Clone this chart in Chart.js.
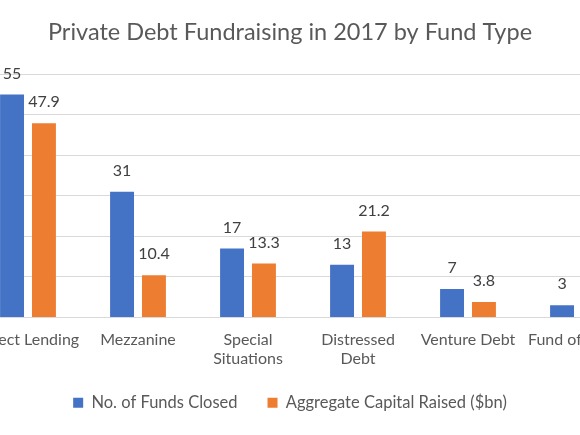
<!DOCTYPE html>
<html>
<head>
<meta charset="utf-8">
<script src="https://cdn.jsdelivr.net/npm/chart.js@4"></script>
<style>
  html, body { margin: 0; padding: 0; width: 580px; height: 435px; overflow: hidden; background: #fff; }
  #wrap { position: absolute; left: -65px; top: 0; width: 710px; height: 435px; }
</style>
</head>
<body>
<div id="wrap"><canvas id="c"></canvas></div>
<script>
const categories = ["Direct Lending", "Mezzanine", ["Special", "Situations"], ["Distressed", "Debt"], "Venture Debt", "Fund of Funds"];
const fundsClosed = [55, 31, 17, 13, 7, 3];
const capitalRaised = [47.9, 10.4, 13.3, 21.2, 3.8, null];
const yTicks = [0, 10, 20, 30, 40, 50, 60];
const seriesNames = ["No. of Funds Closed", "Aggregate Capital Raised ($bn)"];

const FONT = "Lato, 'Open Sans', sans-serif";
const GREY = "#595959";

const valueLabels = {
  id: 'valueLabels',
  afterDatasetsDraw(chart) {
    const ctx = chart.ctx;
    ctx.save();
    ctx.font = "16px " + FONT;
    ctx.fillStyle = "#404040";
    ctx.textAlign = "center";
    ctx.textBaseline = "middle";
    chart.data.datasets.forEach((ds, i) => {
      const meta = chart.getDatasetMeta(i);
      meta.data.forEach((bar, j) => {
        const v = ds.data[j];
        if (v === null || v === undefined) return;
        ctx.fillText(String(v), bar.x, bar.y - 21);
      });
    });
    ctx.restore();
  }
};

new Chart(document.getElementById('c'), {
  type: 'bar',
  data: {
    labels: categories,
    datasets: [
      { label: seriesNames[0], data: fundsClosed, backgroundColor: "#4472C4" },
      { label: seriesNames[1], data: capitalRaised, backgroundColor: "#ED7D31" }
    ]
  },
  options: {
    responsive: true,
    maintainAspectRatio: false,
    animation: false,
    devicePixelRatio: 1,
    layout: { padding: { left: 12, right: 12, top: 8, bottom: 14 } },
    datasets: { bar: { categoryPercentage: 0.58, barPercentage: 0.75 } },
    plugins: {
      title: {
        display: true,
        text: "Private Debt Fundraising in 2017 by Fund Type",
        color: GREY,
        font: { family: FONT, size: 23.5, weight: 'normal' },
        padding: { top: 10, bottom: 28 }
      },
      legend: {
        position: 'bottom',
        labels: {
          color: GREY,
          font: { family: FONT, size: 16.5 },
          boxWidth: 10, boxHeight: 10,
          padding: 30
        }
      },
      tooltip: { enabled: false }
    },
    scales: {
      x: {
        afterFit(s) { s.height = 47; },
        grid: { display: false, drawTicks: false },
        border: { color: "#d9d9d9" },
        ticks: {
          color: GREY, font: { family: FONT, size: 16 },
          autoSkip: false, maxRotation: 0, minRotation: 0, padding: 13
        }
      },
      y: {
        min: 0, max: 60,
        afterFit(s) { s.width = 26; },
        afterBuildTicks(s) { s.ticks = yTicks.map(v => ({ value: v })); },
        grid: { color: "#d9d9d9", drawTicks: false },
        border: { display: false },
        ticks: { color: GREY, font: { family: FONT, size: 16 }, padding: 6 }
      }
    }
  },
  plugins: [valueLabels]
});
</script>
</body>
</html>
